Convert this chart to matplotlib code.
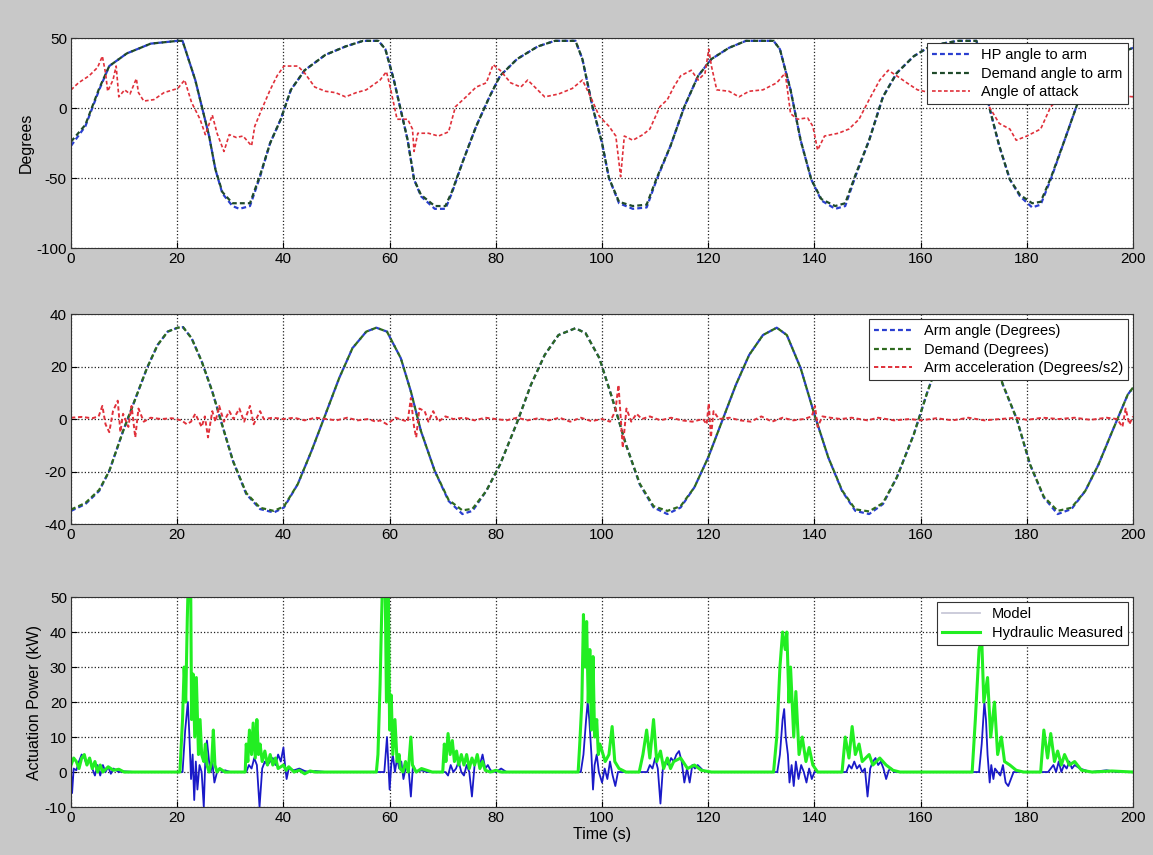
import matplotlib
matplotlib.use("Agg")
import matplotlib.pyplot as plt
from matplotlib.lines import Line2D

plt.rcParams['font.family'] = ['Liberation Sans', 'DejaVu Sans']
plt.rcParams['axes.unicode_minus'] = False

# ---------------- top panel: angles to arm ----------------
t_top = [0, 2.7, 5.3, 7.2, 10.5, 15, 20.1, 21, 23.4, 26,
         27.2, 28.5, 30.4, 31.7, 33.7, 35.6, 37.5, 39.5, 41.4, 44,
         47.9, 51.7, 55, 57.9, 59.2, 60.8, 63.4, 64.6, 65.9, 68.5,
         70.5, 71.7, 73.7, 76.3, 78.8, 80.8, 84, 87.9, 91.1, 95,
         96.3, 98.2, 100, 101.3, 103.2, 105.8, 108.4, 110.3, 112.9, 115.5,
         118.1, 120.6, 123.9, 127.1, 132.3, 133.5, 135.5, 137.4, 139.4, 141.3,
         143.9, 145.8, 147.7, 150.3, 152.9, 155.5, 158.7, 161.3, 164, 167,
         170.5, 171.5, 172.9, 174.8, 176.8, 178.7, 181, 182.6, 184.5, 187.1,
         189.7, 192, 195, 198, 200]
hp_angle = [-27, -13, 13, 30, 39, 46, 48, 48, 20, -20,
            -44, -61, -70, -72, -70, -49, -25, -8, 13, 27,
            38, 44, 48, 48, 42, 20, -23, -51, -63, -72,
            -72, -61, -39, -13, 8, 23, 35, 44, 48, 48,
            35, 1, -25, -50, -68, -72, -71, -51, -27, 1,
            23, 35, 43, 48, 48, 42, 13, -23, -51, -66,
            -72, -70, -49, -23, 8, 25, 37, 43, 46, 48,
            48, 35, 1, -27, -51, -63, -71, -69, -51, -23,
            5, 22, 33, 40, 43]
demand_angle = [-24, -12, 14, 30, 39, 46, 48, 48, 20, -20,
                -44, -60, -68, -68, -68, -48, -25, -8, 13, 27,
                38, 44, 48, 48, 42, 20, -23, -51, -62, -70,
                -70, -60, -39, -13, 8, 23, 35, 44, 48, 48,
                35, 1, -25, -50, -67, -70, -69, -50, -27, 1,
                23, 35, 43, 48, 48, 42, 13, -23, -51, -65,
                -70, -68, -48, -23, 8, 25, 37, 43, 46, 48,
                48, 35, 1, -27, -51, -62, -68, -67, -50, -23,
                5, 22, 33, 40, 43]

t_aoa = [0, 1.4, 3.4, 5, 5.9, 6.5, 6.9, 7.9, 8.5, 9,
         10.1, 11.1, 12.3, 12.7, 13.7, 15.6, 17.5, 20.1, 21.4, 22.7,
         24.3, 25.3, 26.6, 27.5, 28.8, 29.8, 31.1, 32.4, 34, 34.6,
         35.9, 37.5, 38.8, 40.1, 42.7, 44, 45.9, 47.9, 49.8, 51.7,
         53.7, 55.6, 58.2, 59.4, 60.1, 61.4, 63.4, 64.3, 64.6, 65.3,
         67.3, 69.2, 71.1, 72.4, 74.4, 76.3, 78.2, 79.5, 80.8, 82.8,
         84.7, 86, 89.2, 91.8, 94.4, 96.3, 97.6, 99.5, 101.3, 102.6,
         103.5, 104.2, 105.8, 107.7, 109, 110.9, 112.3, 113.5, 114.8, 116.8,
         118.1, 119.4, 120.1, 120.6, 121.6, 123.9, 125.8, 127.7, 130.3, 132.9,
         134.5, 135.5, 136.8, 138.7, 139.7, 140.6, 141.9, 144.5, 146.5, 148.4,
         150.3, 152.3, 153.9, 155.5, 157.4, 159.4, 163, 167, 170, 172,
         172.9, 174.8, 176.8, 178, 180, 182.6, 184.5, 187, 190, 195,
         200]
aoa = [13, 18, 23, 29, 37, 25, 12, 20, 30, 8,
       13, 10, 21, 11, 5, 6, 11, 14, 20, 4,
       -8, -19, -5, -18, -31, -19, -21, -20, -27, -13,
       -1, 13, 23, 30, 30, 25, 15, 12, 11, 8,
       11, 13, 20, 26, 15, -8, -8, -15, -31, -18,
       -18, -20, -17, 1, 8, 15, 18, 31, 27, 18,
       15, 20, 8, 10, 14, 20, 10, -6, -13, -20,
       -49, -20, -23, -19, -15, 1, 6, 15, 23, 27,
       20, 25, 42, 30, 13, 12, 8, 12, 13, 18,
       25, -4, -8, -7, -13, -30, -20, -18, -15, -8,
       6, 20, 27, 23, 18, 13, 10, 12, 18, 10,
       1, -11, -15, -23, -20, -15, 1, 10, 12, 10,
       8]

# ---------------- middle panel: arm angle ----------------
t_mid = [0, 2.7, 5.3, 7.2, 9.8, 11.7, 14.3, 16.3, 18.2, 20.1,
         21.1, 22.7, 24.6, 26.6, 28.5, 30.5, 33, 35.6, 38.2, 40.1,
         42.7, 45.3, 47.9, 50.5, 53, 55.6, 57.5, 59.5, 62.1, 64,
         65.9, 68.5, 71.1, 73.7, 75.6, 78.2, 80.8, 84, 86.6, 89.2,
         91.8, 95, 96.9, 99.5, 101.9, 104.5, 107.1, 109.7, 112.3, 114.8,
         117.4, 120, 122.6, 125.2, 127.7, 130.3, 132.9, 134.8, 137.4, 140,
         142.6, 145.2, 147.7, 150.3, 152.9, 155.5, 158.7, 161.3, 163.2, 165.8,
         168.4, 170.5, 172.5, 174, 175.5, 178.1, 180.6, 183.2, 185.8, 188.4,
         191, 193.5, 196.1, 199, 200]
arm_angle = [-35, -32.4, -27.4, -19.8, -4.6, 5.5, 19.4, 28.2, 33.3, 34.8,
             35, 30.8, 22, 10.5, -2.5, -16, -28.6, -34.3, -35.6, -33.7,
             -24.8, -12.1, 1.7, 15.6, 27, 33.3, 34.8, 33.3, 23.2, 10.5,
             -4.6, -19.8, -31.2, -36.2, -35, -27.4, -17.3, -1.3, 13, 24.4,
             32, 34.6, 32.7, 23.2, 8, -9.7, -24.9, -33.7, -36.2, -33.7,
             -26, -14.6, -0.8, 13, 24.4, 32, 34.8, 32, 19.4, 1.7,
             -14.6, -27.4, -35, -36.2, -32.4, -22.3, -5.9, 10.5, 21, 30,
             34.5, 35, 30, 22, 13, 0, -17.3, -29.9, -36.2, -34.3,
             -27.4, -17.3, -4.6, 9.3, 12]
arm_demand = [-34.5, -32, -27, -19.8, -4.6, 5.5, 19.4, 28.2, 33.3, 34.8,
              35, 30.8, 22, 10.5, -2.5, -16, -28.2, -33.8, -35, -33.3,
              -24.8, -12.1, 1.7, 15.6, 27, 33.3, 34.8, 33.3, 23.2, 10.5,
              -4.6, -19.8, -30.8, -34.8, -34.2, -27.4, -17.3, -1.3, 13, 24.4,
              32, 34.6, 32.7, 23.2, 8, -9.7, -24.6, -33.2, -35, -33.2,
              -26, -14.6, -0.8, 13, 24.4, 32, 34.8, 32, 19.4, 1.7,
              -14.6, -27.2, -34.4, -35.2, -32, -22.3, -5.9, 10.5, 21, 30,
              34.5, 35, 30, 22, 13, 0, -17.3, -29.6, -35, -33.8,
              -27.4, -17.3, -4.6, 9.3, 12]

t_acc = [0, 2, 4, 5.2, 5.9, 6.5, 7.2, 7.9, 8.8, 9.3,
         9.8, 10.8, 11.4, 12.1, 12.7, 13.7, 15, 17, 19, 20.8,
         21.8, 22.6, 23.4, 24.6, 25.2, 25.8, 26.6, 27.2, 27.9, 28.8,
         29.8, 30.6, 31.7, 32.6, 33.7, 34.4, 35.6, 36.3, 38, 40,
         42, 44, 46, 48, 50, 52, 54, 56, 57.4, 58.2,
         59.5, 61.1, 63.4, 64, 64.6, 65, 65.6, 66.6, 67.3, 68.2,
         69.2, 70.5, 72, 74, 76, 78, 80, 82, 84, 86,
         88, 90, 92, 94, 96, 98, 100, 101.5, 102.5, 103.1,
         103.9, 104.6, 105.5, 106.5, 107.5, 109, 111, 113, 115, 117,
         119, 119.7, 120.1, 120.5, 121, 122, 124, 126, 128, 130,
         132, 134, 136, 138, 139.5, 140.1, 140.6, 141.5, 143, 145,
         147, 150, 152, 155, 158, 160, 163, 166, 169, 172,
         175, 178, 180, 183, 186, 189, 192, 195, 197, 198,
         198.6, 199.3, 200]
arm_acc = [0.5, 0.8, 0.3, 1, 5, -2, -5, 3, 7, -5,
           2, -3, 5, -7, 4, -1, 0.5, 0, 0.3, -0.5,
           -2, -1, 2, -3, 1, -7, 3, -1, 5, -1,
           3, 0, 4, -1, 5, -2, 3, 0, 0.5, 0,
           0.5, -0.5, 0.5, 0, -0.5, 0.5, -0.5, 0, -1, -0.5,
           -2, 0.5, -1, 8, -3, -7, 4, 3, -1, 3,
           -1, 1, 0, 0.5, -0.5, 0.5, 0, -0.5, 0.5, -0.5,
           0.3, -0.5, 0.5, -1, 0.5, -0.8, 0, -1, 3, 13,
           -11, 4, -1, 2, 0, 1, -0.5, 0.5, -0.5, -1,
           0, -2, 6, -7, 3, 0, 0.5, -0.5, -1, 1,
           -1, 0.5, -0.5, 0, 1, 5, -3, 1, 0.5, 0,
           0.5, -0.5, 0.5, -0.5, 0, -0.5, 0.3, -0.5, 0.5, -0.5,
           0, 0.5, -0.3, 0.5, 0, 0.5, -0.3, 0.5, 0, -3,
           4, -2, 1]

# ---------------- bottom panel: actuation power ----------------
t_meas = [0, 0.5, 1, 1.5, 2, 2.5, 3, 3.5, 4, 4.5, 5, 5.5, 6, 7, 8, 9, 10,
          20.5, 21, 21.3, 21.6, 21.9, 22.2, 22.5, 22.7, 23, 23.3, 23.6, 24, 24.3,
          24.6, 25, 25.3, 25.6, 26, 26.5, 26.8, 27.1, 27.5, 28, 29,
          32.8, 33, 33.3, 33.6, 34, 34.3, 34.7, 35, 35.3, 35.6, 36, 36.5, 37,
          37.5, 38, 38.5, 39, 40, 40.5, 41, 42, 43, 44, 45, 46,
          57.5, 57.8, 58.2, 58.5, 58.8, 59.1, 59.4, 59.7, 60, 60.3, 60.6, 61,
          61.4, 61.8, 62, 62.5, 63, 63.5, 64, 64.3, 65, 66, 67, 68,
          70, 70.3, 70.6, 71, 71.4, 71.8, 72.2, 72.6, 73, 73.5, 74, 74.5, 75,
          75.5, 76, 76.5, 77, 77.5, 78, 79, 80, 81,
          95.5, 95.8, 96.2, 96.5, 96.8, 97.1, 97.4, 97.7, 98, 98.3, 98.6, 99,
          99.3, 99.6, 100.6, 101.3, 101.9, 102.4, 103.2, 104.5,
          107, 107.7, 108.4, 109, 109.7, 110.3, 111, 111.6, 112.3, 112.9, 113.5,
          114.8, 116.1, 117.4, 118.7, 120.6,
          132.3, 132.9, 133.5, 134, 134.5, 134.8, 135.2, 135.5, 136.1, 136.5,
          137.1, 137.7, 138.4, 139, 139.7, 140.6,
          145.2, 145.8, 146.5, 147.1, 147.7, 148.4, 149, 150.3, 151, 152.3,
          153.5, 154.8, 156.1,
          169.7, 170.3, 171, 171.5, 171.9, 172.6, 173.2, 173.9, 174.5, 175.2,
          175.8, 176.8, 178, 179.4,
          182.6, 183.2, 183.9, 184.5, 185.2, 185.8, 186.5, 187.1, 188, 189,
          190.3, 192.3, 196, 200]
p_meas = [2, 4, 3, 1, 4, 5, 2, 4, 1, 3, 0, 2, 0, 1.5, 0.5, 0.8, 0,
          0, 15, 30, 20, 44, 62, 62, 15, 28, 10, 27, 5, 15,
          5, 3, 8, 2, 0, 3, 12, 2, 0, 1, 0,
          0, 8, 3, 12, 5, 14, 4, 15, 5, 8, 3, 6, 2,
          5, 2, 4, 1, 2, 0.5, 1.5, 0, 0.5, -0.5, 0.3, 0,
          0, 5, 25, 45, 62, 62, 20, 62, 12, 22, 5, 15,
          3, 5, 1, 0, 3, 0, 10, 2, 0, 1, 0.5, 0,
          0, 8, 3, 11, 5, 9, 3, 6, 2, 5, 2, 5, 1,
          4, 2, 5, 1, 3, 0.5, 0, 0.5, 0,
          0, 8, 20, 45, 30, 43, 20, 35, 12, 33, 10, 15,
          5, 8, 3, 5, 13, 3, 1, 0,
          0, 5, 12, 4, 15, 3, 6, 1, 4, 1, 3,
          4, 1, 2, 0.5, 0,
          0, 10, 30, 40, 35, 40, 20, 30, 10, 23,
          5, 10, 3, 7, 2, 0,
          0, 10, 4, 13, 5, 8, 3, 5, 2, 4,
          2, 0.5, 0,
          0, 15, 35, 38, 20, 27, 10, 20, 5, 10,
          3, 2, 0.5, 0,
          0, 12, 4, 11, 3, 6, 2, 5, 2, 3,
          0.5, 0, 0.3, 0]

t_model = [0, 0.2, 0.5, 1, 1.5, 2, 2.5, 3, 3.5, 4, 4.5, 5, 5.5, 6, 6.5, 7, 7.5, 8, 9, 10, 12,
           21, 21.5, 22, 22.3, 22.6, 22.9, 23.2, 23.5, 23.8, 24.2, 24.6, 25, 25.3, 25.6,
           26, 26.3, 26.6, 27, 27.5, 28, 28.5, 29, 30,
           33, 33.5, 34, 34.5, 35, 35.5, 36, 36.5, 37, 38, 38.5, 39, 39.5, 40, 40.3,
           40.6, 41, 42, 43, 44, 45, 46, 48,
           59, 59.5, 60, 60.3, 60.6, 61, 61.4, 61.8, 62.2, 62.6, 63, 63.5, 64, 64.4,
           65, 66, 67,
           70, 70.5, 71, 71.5, 72, 72.5, 73, 73.5, 74, 74.5, 75, 75.5, 76, 76.5, 77,
           77.5, 78, 78.5, 79, 80, 81, 82,
           96, 96.5, 97, 97.3, 97.6, 98, 98.3, 98.6, 99, 99.4, 100, 100.5, 101, 101.5,
           102, 102.5, 103, 104,
           108, 108.5, 109, 109.5, 110, 110.5, 111, 111.5, 112, 112.5, 113, 113.5, 114,
           114.5, 115, 115.5, 116, 116.5, 117, 117.5, 118, 119, 120,
           133, 133.5, 134, 134.3, 134.6, 135, 135.3, 135.7, 136.1, 136.5, 137, 137.5,
           138, 138.5, 139, 139.5, 140,
           146, 146.5, 147, 147.5, 148, 148.5, 149, 149.5, 150, 150.5, 151, 151.5, 152,
           152.5, 153, 153.5, 154, 154.5, 155,
           171, 171.5, 172, 172.3, 172.6, 173, 173.3, 173.7, 174, 174.5, 175, 175.5,
           176, 176.5, 177, 177.5, 178,
           184, 184.5, 185, 185.5, 186, 186.5, 187, 187.5, 188, 188.5, 189, 190, 191,
           192, 195, 197, 200]
p_model = [0, -6, 1, 0.5, 3, 5, 4, 2, 4, 1, -1, 2, -1, 2, 0, 1.5, -0.5, 1, 0, 0.2, 0,
           0, 12, 20, 10, -2, 5, -8, 3, -5, 2, 0, -10, 4, 9,
           3, 0, 3, -3, 0, 1, 0, 0.5, 0,
           0, 2, 1, 4, 2, -10, 1, 3, 2, 4, 2, 5, 3, 7, 2,
           -2, 1, 0.5, 1, 0.3, 0, 0.3, 0,
           0, 10, -5, 2, 5, 0, 4, 1, 3, -2, 1, 2, -7, 2,
           0, 0.5, 0,
           0, 0, -1, 2, 0, 1, 3, 0, -1, 2, 0, -7, 2, 4, 2,
           5, 1, 2, 0.5, 0, 1, 0,
           0, 5, 15, 20, 15, 5, -5, 2, 5, 0, -3, 1, -2, 3,
           -1, -4, 0, 0,
           0, 0, 2, 1, 4, 1, -9, 2, 3, 2, 4, 3, 5,
           6, 3, -3, 1, -3, 2, 1, 2, 0.5, 0,
           0, 5, 15, 18, 10, 5, -3, 2, -4, 3, -2, 2,
           0, -3, 1, -2, 0,
           0, 2, 1, 3, 1, 2, 0, 1, -7, 1, 3, 4, 2,
           3, 1, -2, 0.5, 1, 0,
           0, 8, 20, 15, 5, -3, 2, -2, 1, 0, -1, 2,
           -3, -4, -2, 0, 0,
           0, 1, 2, 0, 3, 0, 2, 1, 3, 1, 2, 1, 0.5,
           0, 0.5, 0, 0]

x_ticks = [0, 20, 40, 60, 80, 100, 120, 140, 160, 180, 200]

# ---------------- figure ----------------
fig = plt.figure(figsize=(11.53, 8.55), dpi=100, facecolor='#c8c8c8')
left, width, height = 0.0616, 0.9211, 0.2456
ax1 = fig.add_axes([left, 0.7099, width, height])
ax2 = fig.add_axes([left, 0.3871, width, height])
ax3 = fig.add_axes([left, 0.0561, width, height])

BLUE = '#2a3fd0'
DKGREEN = '#1f4a2a'
RED = '#e0303a'
DASH = (0, (2.2, 1.4))

ax1.plot(t_top, hp_angle, linestyle=DASH, color=BLUE, lw=1.6, label='HP angle to arm')
ax1.plot(t_top, demand_angle, linestyle=DASH, color=DKGREEN, lw=1.6, label='Demand angle to arm')
ax1.plot(t_aoa, aoa, linestyle=DASH, color=RED, lw=1.2, label='Angle of attack')
ax1.set_ylim(-100, 50)
ax1.set_yticks([-100, -50, 0, 50])
ax1.set_ylabel('Degrees', fontsize=11.5, labelpad=2)

ax2.plot(t_mid, arm_angle, linestyle=DASH, color=BLUE, lw=1.6, label='Arm angle (Degrees)')
ax2.plot(t_mid, arm_demand, linestyle=DASH, color='#2e6a1e', lw=1.6, label='Demand (Degrees)')
ax2.plot(t_acc, arm_acc, linestyle=DASH, color=RED, lw=1.4, label='Arm acceleration (Degrees/s2)')
ax2.set_ylim(-40, 40)
ax2.set_yticks([-40, -20, 0, 20, 40])

ax3.plot(t_model, p_model, '-', color='#1a1ac8', lw=1.3)
ax3.plot(t_meas, p_meas, '-', color='#22ee22', lw=2.2)
ax3.set_ylim(-10, 50)
ax3.set_yticks([-10, 0, 10, 20, 30, 40, 50])
ax3.set_ylabel('Actuation Power (kW)', fontsize=11.5, labelpad=2)
ax3.set_xlabel('Time (s)', fontsize=11.5, labelpad=1)

for ax in (ax1, ax2, ax3):
    ax.set_facecolor('white')
    ax.set_xlim(0, 200)
    ax.set_xticks(x_ticks)
    ax.grid(True, linestyle=':', color='#222222', lw=0.9)
    ax.tick_params(direction='in', length=4, labelsize=11, colors='black', pad=3)
    for s in ax.spines.values():
        s.set_color('#333333')
        s.set_linewidth(0.8)

leg_kw = dict(loc='upper right', fontsize=10.5, frameon=True, fancybox=False,
              edgecolor='#333333', framealpha=1, borderaxespad=0.35,
              handlelength=2.6, labelspacing=0.3, borderpad=0.35)
l1 = ax1.legend(**leg_kw)
l2 = ax2.legend(**leg_kw)
handles3 = [Line2D([], [], color='#c8c8d8', lw=1.3),
            Line2D([], [], color='#22ee22', lw=2.2)]
l3 = ax3.legend(handles3, ['Model', 'Hydraulic Measured'], **leg_kw)
for l in (l1, l2, l3):
    l.get_frame().set_linewidth(0.8)

fig.savefig('out.png', dpi=100, facecolor=fig.get_facecolor())
